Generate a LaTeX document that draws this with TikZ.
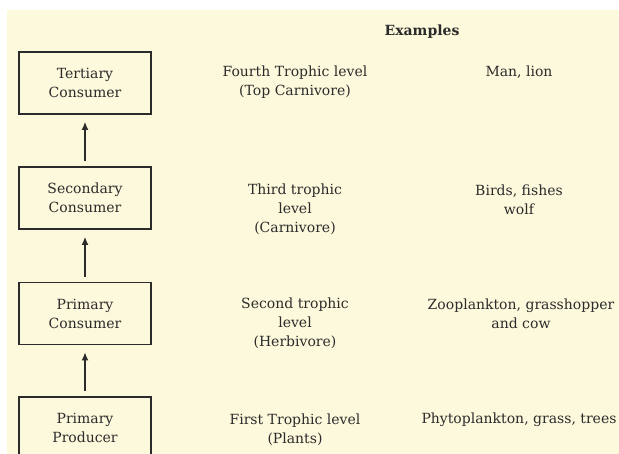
\documentclass[tikz,border=0pt]{standalone}
\usepackage{fontspec}
\setmainfont{DejaVu Serif}
\usetikzlibrary{arrows.meta}
\definecolor{cream}{HTML}{FDF9DC}
\definecolor{ink}{HTML}{2B2B2B}
\tikzset{
  levelbox/.style={draw=ink, line width=1.8pt, minimum width=132pt, minimum height=62pt,
    inner sep=0pt, align=center, text=ink, font=\fontsize{14}{19}\selectfont},
  label/.style={align=center, text=ink, inner sep=0pt, font=\fontsize{14}{19}\selectfont},
  uparrow/.style={draw=ink, line width=1.4pt, -{Latex[length=8pt,width=7pt]}, shorten >=7pt, shorten <=5pt}
}
\begin{document}
\begin{tikzpicture}[x=1pt, y=-1pt]
\useasboundingbox (0,0) rectangle (619,454);
\fill[white] (0,0) rectangle (619,454);
\fill[cream] (7,10) rectangle (619,454);
\begin{scope}
\clip (0,0) rectangle (619,454);
\node[levelbox] (ter) at (85,83) {Tertiary\\Consumer};
\node[levelbox] (sec) at (85,198) {Secondary\\Consumer};
\node[levelbox] (pri) at (85,313.5) {Primary\\Consumer};
\node[levelbox] (pro) at (85,428) {Primary\\Producer};
\end{scope}
\draw[uparrow] (pro.north) -- (pri.south);
\draw[uparrow] (pri.north) -- (sec.south);
\draw[uparrow] (sec.north) -- (ter.south);

\node[label, font=\fontsize{14}{19}\selectfont\bfseries] (ex) at (422,32) {Examples};

\node[label] (l4) at (295,82.5) {Fourth Trophic level\\(Top Carnivore)};
\node[label] (l3) at (295,209) {Third trophic\\level\\(Carnivore)};
\node[label] (l2) at (295,323) {Second trophic\\level\\(Herbivore)};
\node[label] (l1) at (295,429.5) {First Trophic level\\(Plants)};

\node[label] (e4) at (519,72) {Man, lion};
\node[label] (e3) at (519,199.5) {Birds, fishes\\wolf};
\node[label] (e2) at (521,313.5) {Zooplankton, grasshopper\\and cow};
\node[label] (e1) at (519,420) {Phytoplankton, grass, trees};
\end{tikzpicture}
\end{document}
